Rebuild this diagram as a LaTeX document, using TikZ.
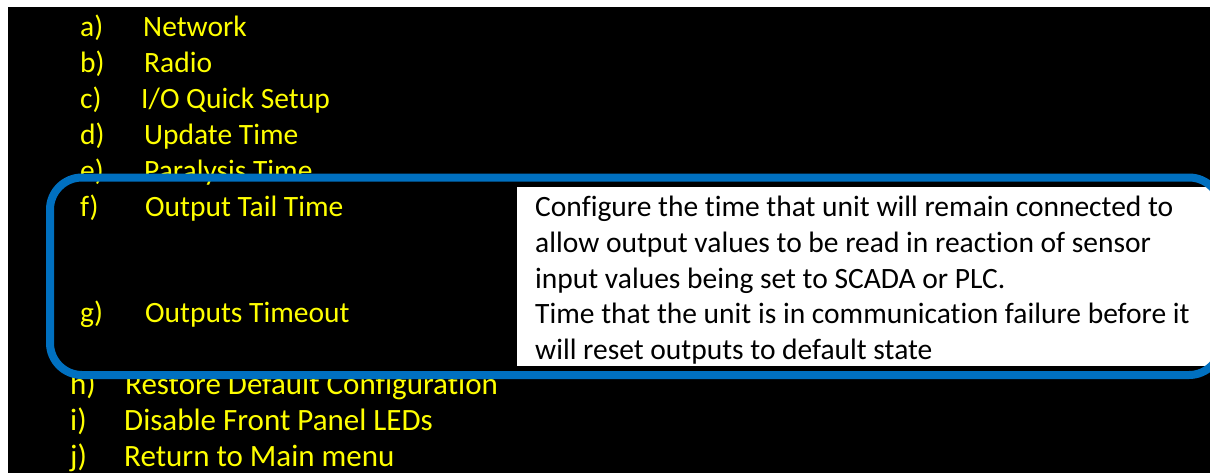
\documentclass[tikz,border=0pt]{standalone}
\usepackage{fontspec}
\setmainfont[Ligatures=NoCommon]{Carlito}
\definecolor{menuyellow}{HTML}{FFFF00}
\definecolor{frameblue}{HTML}{0070C0}
\tikzset{
  menutext/.style={anchor=base west, inner sep=0pt, text=menuyellow, font=\fontsize{29.5}{35}\selectfont},
  lowtext/.style={anchor=base west, inner sep=0pt, text=menuyellow, font=\fontsize{31}{37}\selectfont},
  desctext/.style={anchor=base west, inner sep=0pt, text=black, font=\fontsize{29.5}{35}\selectfont},
  frame/.style={draw=frameblue, line width=8pt, rounded corners=32pt}
}
\begin{document}
\begin{tikzpicture}[x=1pt,y=-1pt]
\useasboundingbox (0,0) rectangle (1210,472);
\clip (0,0) rectangle (1210,472);
\fill[white] (0,0) rectangle (1210,472);
\fill[black] (8,7) rectangle (1212,474);
% menu
\node[menutext] (la) at (80,36) {a)};
\node[menutext] (ta) at (143,36) {Network};
\node[menutext] (lb) at (80,72) {b)};
\node[menutext] (tb) at (144,72) {Radio};
\node[menutext] (lc) at (80,108) {c)};
\node[menutext] (tc) at (141,108) {I/O Quick Setup};
\node[menutext] (ld) at (80,144) {d)};
\node[menutext] (td) at (144,144) {Update Time};
\node[menutext] (le) at (80,180) {e)};
\node[menutext] (te) at (144,180) {Paralysis Time};
% lower items (drawn before the frame so the frame covers their tops)
\node[lowtext] (lh) at (70,394.5) {h)};
\node[lowtext] (th) at (125,394.5) {Restore Default Configuration};
\node[lowtext] (li) at (70,430.5) {i)};
\node[lowtext] (ti) at (124,430.5) {Disable Front Panel LEDs};
\node[lowtext] (lj) at (70,466.5) {j)};
\node[lowtext] (tj) at (124,466.5) {Return to Main menu};
% white description box
\fill[white] (517,187) rectangle (1214,366);
\draw[frame] (50,177.5) rectangle (1221,375);
\node[menutext] (lf) at (80,216) {f)};
\node[menutext] (tf) at (145,216) {Output Tail Time};
\node[menutext] (lg) at (80,322) {g)};
\node[menutext] (tg) at (145,322) {Outputs Timeout};
\node[desctext] (d1) at (535,216) {Configure the time that unit will remain connected to};
\node[desctext] (d2) at (535,252) {allow output values to be read in reaction of sensor};
\node[desctext] (d3) at (535,288) {input values being set to SCADA or PLC.};
\node[desctext] (d4) at (535,323) {Time that the unit is in communication failure before it};
\node[desctext] (d5) at (535,359) {will reset outputs to default state};
\end{tikzpicture}
\end{document}
